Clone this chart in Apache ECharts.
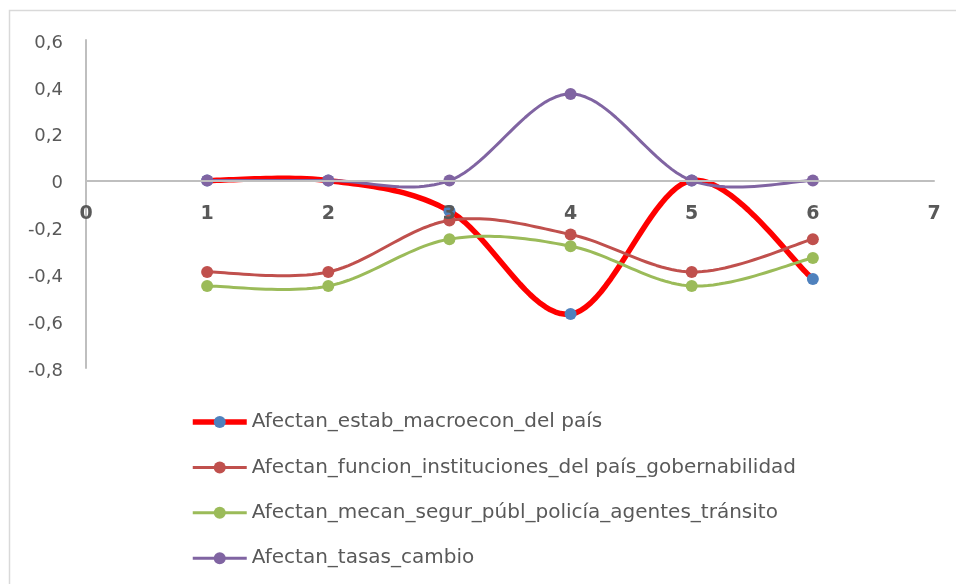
<!DOCTYPE html>
<html>
<head>
<meta charset="utf-8">
<script src="https://cdn.jsdelivr.net/npm/echarts@6/dist/echarts.min.js"></script>
<style>
  html, body { margin: 0; padding: 0; background: #ffffff; }
  #chart { width: 956px; height: 584px; }
</style>
</head>
<body>
<div id="chart"></div>
<script>
// Positions along the horizontal axis
const xPositions = [1, 2, 3, 4, 5, 6];

// Series names
const seriesNames = [
  'Afectan_estab_macroecon_del país',
  'Afectan_funcion_instituciones_del país_gobernabilidad',
  'Afectan_mecan_segur_públ_policía_agentes_tránsito',
  'Afectan_tasas_cambio'
];

// Series values
const estabMacroecon = [0, 0, -0.13, -0.57, 0, -0.42];
const funcionInstituciones = [-0.39, -0.39, -0.17, -0.23, -0.39, -0.25];
const mecanSegurPubl = [-0.45, -0.45, -0.25, -0.28, -0.45, -0.33];
const tasasCambio = [0, 0, 0, 0.37, 0, 0];

const allValues = [estabMacroecon, funcionInstituciones, mecanSegurPubl, tasasCambio];

// Line and marker colours per series
const lineColors = ['#ff0000', '#c0504d', '#9bbb59', '#8064a2'];
const markerColors = ['#4f81bd', '#c0504d', '#9bbb59', '#8064a2'];
const lineWidths = [5.5, 3, 3, 3];

const textColor = '#595959';
const axisColor = '#bfbfbf';
const fontFamily = '"DejaVu Sans", sans-serif';

// Smoothed path through the points (Catmull-Rom style cubic segments),
// sampled into a polyline in pixel space.
function smoothPoints(pts) {
  const out = [];
  const n = pts.length;
  const steps = 24;
  for (let i = 0; i < n - 1; i++) {
    const p0 = pts[Math.max(i - 1, 0)];
    const p1 = pts[i];
    const p2 = pts[i + 1];
    const p3 = pts[Math.min(i + 2, n - 1)];
    const c1 = [p1[0] + (p2[0] - p0[0]) / 6, p1[1] + (p2[1] - p0[1]) / 6];
    const c2 = [p2[0] - (p3[0] - p1[0]) / 6, p2[1] - (p3[1] - p1[1]) / 6];
    for (let s = (i === 0 ? 0 : 1); s <= steps; s++) {
      const t = s / steps, u = 1 - t;
      out.push([
        u * u * u * p1[0] + 3 * u * u * t * c1[0] + 3 * u * t * t * c2[0] + t * t * t * p2[0],
        u * u * u * p1[1] + 3 * u * u * t * c1[1] + 3 * u * t * t * c2[1] + t * t * t * p2[1]
      ]);
    }
  }
  return out;
}

const series = [];
allValues.forEach((vals, k) => {
  // curve
  series.push({
    type: 'custom',
    coordinateSystem: 'cartesian2d',
    silent: true,
    z: 2 + 2 * k,
    data: [[xPositions[0], vals[0]]],
    renderItem: (params, api) => {
      const pts = xPositions.map((x, i) => api.coord([x, vals[i]]));
      return {
        type: 'polyline',
        shape: { points: smoothPoints(pts) },
        style: {
          fill: 'none',
          stroke: lineColors[k],
          lineWidth: lineWidths[k],
          lineJoin: 'round',
          lineCap: 'round'
        }
      };
    }
  });
  // markers
  series.push({
    name: seriesNames[k],
    type: 'line',
    symbol: 'circle',
    symbolSize: 12,
    z: 3 + 2 * k,
    data: xPositions.map((x, i) => [x, vals[i]]),
    lineStyle: { width: 0, opacity: 0 },
    itemStyle: { color: markerColors[k] },
    emphasis: { disabled: true }
  });
});

const chart = echarts.init(document.getElementById('chart'), null, { renderer: 'canvas' });

const option = {
  animation: false,
  backgroundColor: '#ffffff',
  textStyle: { fontFamily: fontFamily },
  graphic: [{
    type: 'rect',
    silent: true,
    shape: { x: 9.5, y: 10.5, width: 970, height: 610 },
    style: { fill: 'none', stroke: '#d9d9d9', lineWidth: 1.5 }
  }],
  grid: { left: 86, right: 22, top: 40, bottom: 216, containLabel: false },
  xAxis: {
    type: 'value',
    min: 0,
    max: 7,
    interval: 1,
    z: 20,
    axisLine: { show: true, onZero: false, lineStyle: { color: axisColor, width: 2 } },
    axisTick: { show: false },
    splitLine: { show: false },
    axisLabel: {
      color: textColor,
      fontSize: 19,
      fontWeight: 'bold',
      fontFamily: fontFamily,
      margin: 24,
      showMinLabel: true,
      showMaxLabel: true
    }
  },
  yAxis: {
    type: 'value',
    min: -0.8,
    max: 0.6,
    interval: 0.2,
    axisLine: { show: true, onZero: false, lineStyle: { color: axisColor, width: 2 } },
    axisTick: { show: false },
    splitLine: { show: false },
    axisLabel: {
      color: textColor,
      fontSize: 18,
      fontFamily: fontFamily,
      margin: 23,
      formatter: v => {
        const r = Math.round(v * 10) / 10;
        return '{t|' + (r === 0 ? '0' : r.toFixed(1).replace('.', ',')) + '}';
      },
      rich: {
        t: { color: textColor, fontSize: 18, fontFamily: fontFamily, padding: [6, 0, 0, 0] }
      }
    }
  },
  legend: {
    orient: 'vertical',
    left: 190,
    top: 412,
    padding: 0,
    itemWidth: 54,
    itemHeight: 15,
    itemGap: 25.4,
    selectedMode: false,
    data: seriesNames.map((name, k) => ({
      name: name,
      lineStyle: { color: lineColors[k], width: lineWidths[k], opacity: 1, type: 'solid' },
      itemStyle: { color: markerColors[k] }
    })),
    textStyle: { color: textColor, fontSize: 20, fontFamily: fontFamily, lineHeight: 20 }
  },
  series: series
};

chart.setOption(option);

// Put the horizontal axis (line and labels) on the zero level of the vertical axis
const yZero = chart.convertToPixel({ yAxisIndex: 0 }, 0);
const yBottom = chart.convertToPixel({ yAxisIndex: 0 }, -0.8);
chart.setOption({ xAxis: { offset: -(yBottom - yZero) } });
</script>
</body>
</html>
